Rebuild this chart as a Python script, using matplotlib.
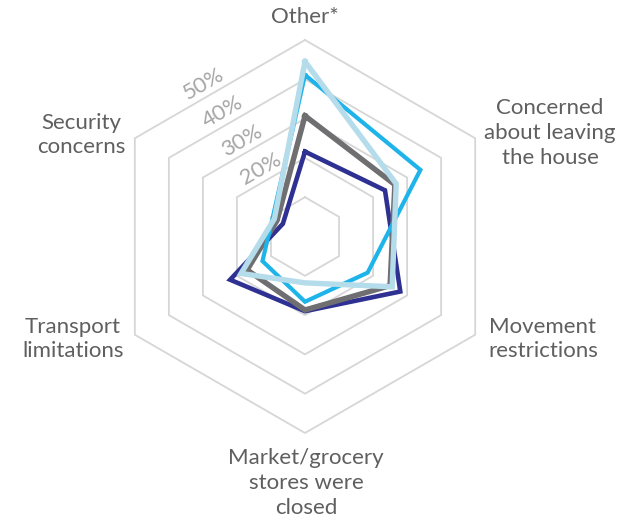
import numpy as np
import matplotlib
matplotlib.use("Agg")
import matplotlib.pyplot as plt

# ---------------------------------------------------------
# data: share of respondents per reason (%)
# ---------------------------------------------------------
categories = [
    "Other*",
    "Concerned\nabout leaving\nthe house",
    "Movement\nrestrictions",
    "Market/grocery\nstores were\nclosed",
    "Transport\nlimitations",
    "Security\nconcerns",
]
navy_vals = [21.6, 23.5, 28.0, 19.0, 22.0, 6.5]
grey_vals = [30.7, 26.4, 25.0, 18.7, 17.0, 8.2]
blue_vals = [41.1, 33.9, 18.4, 16.6, 12.5, 9.5]
light_vals = [44.5, 26.8, 25.6, 11.8, 18.8, 9.0]

ring_levels = [10, 20, 30, 40, 50]
ring_labels = ["", "20%", "30%", "40%", "50%"]

# axis angles: start at top, clockwise
angles = np.deg2rad(90 - 60 * np.arange(len(categories)))


def to_xy(values):
    v = np.asarray(values, dtype=float)
    x = v * np.cos(angles)
    y = v * np.sin(angles)
    return np.append(x, x[0]), np.append(y, y[0])


plt.rcParams["font.family"] = ["Lato", "DejaVu Sans"]

fig = plt.figure(figsize=(6.37, 5.18), dpi=100)
ax = fig.add_axes([0, 0, 1, 1])
ax.axis("off")

# pixel layout: centre at (305, 236.5), 3.93 px per percent
px = 3.93
ax.set_xlim(-305 / px, (637 - 305) / px)
ax.set_ylim(-(518 - 236.5) / px, 236.5 / px)

# hexagon grid
for lvl in ring_levels:
    gx, gy = to_xy([lvl] * len(categories))
    ax.plot(gx, gy, color="#d6d6d6", lw=1.3, zorder=1)

# ring labels along the upper-left edge
f = 0.56
for lvl, lab in zip(ring_levels, ring_labels):
    if not lab:
        continue
    lx = -0.866 * lvl * f - 1.6
    ly = lvl * (1 - 0.5 * f) + 2.8
    ax.text(lx, ly, lab, rotation=30, ha="center", va="center",
            fontsize=16, color="#a6a6a6", zorder=2)

# series
series = [
    (navy_vals, "#2e3192", 3.3),
    (grey_vals, "#6f6f71", 3.9),
    (blue_vals, "#1eb4ea", 3.0),
    (light_vals, "#b4dcea", 3.9),
]
for vals, col, lw in series:
    sx, sy = to_xy(vals)
    ax.plot(sx, sy, color=col, lw=lw, solid_joinstyle="miter", zorder=3)

# category labels (pixel centres converted to data units)
label_px = [(305, 17), (550, 133), (543, 339), (306, 483), (73, 339), (81, 135)]
for text, (cx, cy) in zip(categories, label_px):
    ax.text((cx - 305) / px, (236.5 - cy) / px, text, ha="center",
            va="center", fontsize=16, color="#5f5f5f", linespacing=1.3)

fig.savefig("out.png", dpi=100)
plt.close(fig)
